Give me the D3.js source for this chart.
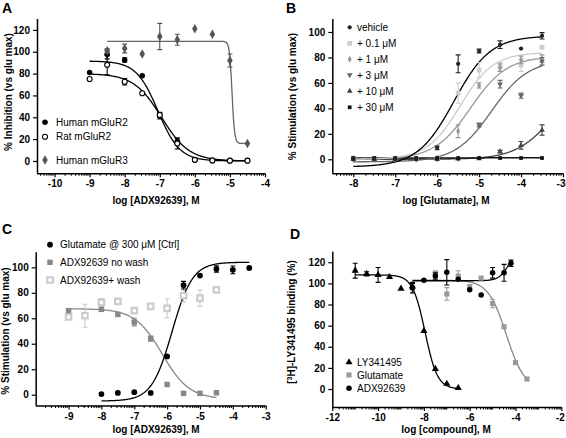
<!DOCTYPE html>
<html><head><meta charset="utf-8">
<script src="https://cdn.jsdelivr.net/npm/d3@7"></script>
<style>body{margin:0;background:#fff}svg{display:block}text{font-family:"Liberation Sans",Arial,sans-serif}</style>
</head><body>
<svg id="c" width="566" height="438"></svg>
<script>
// ===== Panel A data =====
const aX = [-9,-8.5,-8,-7.5,-7,-6.5,-6,-5.5,-5,-4.5];
const aHumanR2 = [81,97.5,92.5,78,41.5,18,0.8,0.3,0.3,0.3];
const aHumanR2Err = [0,4,2,0,3,3,0,0,0,0];
const aRatR2 = [75,88,72.5,62,42,16,1,0.5,0.3,0.3];
const aRatR2Err = [0,9,3,0,2,5,0,0,0,0];
const aX3 = [-8.5,-8,-7.5,-7,-6.5,-6,-5.5,-5,-4.5];
const aHumanR3 = [101,103,98,114,111,121,116,92,16];
const aHumanR3Err = [2,4,0,12,5,0,0,6,0];
// fit params: [bottom, top, logEC50, hill]
const aFitHumanR2 = [0,91.5,-7.05,-1.4];
const aFitRatR2 = [0,80,-6.95,-1.1];
const aFitHumanR3 = [16,109.5,-4.94,-12];
const aLabels = ["Human mGluR2","Rat mGluR2","Human mGluR3"];

// ===== Panel B data =====
const bX = [-8,-7.5,-7,-6.5,-6,-5.5,-5,-4.5,-4,-3.5];
const bVehicle = [0.5,0.5,0.5,0.5,9,75,85,90,87,97];
const bVehicleErr = [0,0,0,0,1.5,7,1.5,3,0,2.5];
const bP01 = [1,0.8,0.5,0.5,0.5,52,70,73,74,88];
const bP01Err = [0,0,0,0,0,8,6,3,5,0];
const bP1 = [0,0,0,0,1,22,58,72,78,79];
const bP1Err = [0,0,0,0,0,5,2,3,3,3];
const bP3 = [0,0,0,0,0,0.5,27,59,50,77];
const bP3Err = [0,0,0,0,0,0,1.5,3,2,3];
const bP10 = [0,0,0,0,0,0.3,0.5,6,11,23];
const bP10Err = [0,0,0,0,0,0,0,1,3,4];
const bP30 = [1,1,1,1,1,1,1,1,1,1];
const bFitVehicle = [-6,97,-5.6,1];
const bFitP01 = [0,84,-5.45,1.1];
const bFitP1 = [0,81,-5.2,1];
const bFitP3 = [-2,78,-4.7,1];
const bFitP10 = [0,60,-3.3,1];
const bFitP30 = [1,1.2,-5,1];
const bLabels = ["vehicle","+ 0.1 \u03bcM","+ 1 \u03bcM","+ 3 \u03bcM","+ 10 \u03bcM","+ 30 \u03bcM"];

// ===== Panel C data =====
const cXGlu = [-8,-7.5,-7,-6.5,-6,-5.5,-5,-4.5,-4,-3.5];
const cGlu = [0.5,1.4,2,1.4,30,86,93.5,98.7,98,99.5];
const cGluErr = [0,0,0,0,0,3,0,2.5,3,0];
const cXNoWash = [-9,-8,-7.5,-7,-6.5,-6,-5.5,-5,-4.5];
const cNoWash = [66,67,63,57,44,8,1,1,1.5];
const cNoWashErr = [0,0,0,3,2,0,0,0,0];
const cXWash = [-9,-8.5,-8,-7.5,-7,-6.5,-6,-5.5,-5,-4.5];
const cWash = [61,62,72.5,73.3,66,69.4,67.8,77.7,75.8,82.3];
const cWashErr = [0,9,3,1.5,1.5,1.5,7.5,5,6.5,2];
const cFitGlu = [-5,104,-5.85,1.4];
const cFitNoWash = [-3.5,67.5,-6.15,-1.05];
const cLabels = ["Glutamate @ 300 \u03bcM [Ctrl]","ADX92639 no wash","ADX92639+ wash"];

// ===== Panel D data =====
const dXLY = [-11,-10.5,-10,-9.5,-9,-8.5,-8,-7.5,-7,-6.5];
const dLY = [112,109,108,106,95,97,55,19,5,1];
const dLYErr = [7,2,7,0,0,3,0,0,0,0];
const dXGlu = [-7.5,-7,-6.5,-6,-5.5,-5,-4.5,-4,-3.5];
const dGlu = [110,90,107,97,105,81,59,25,9.5];
const dGluErr = [0,6,5,0,0,4,0,0,0];
const dXADX = [-8.5,-8,-7.5,-7,-6.5,-6,-5.5,-5,-4.5,-4.2];
const dADX = [96,103,107,110.5,104,94,89,110,110,119];
const dADXErr = [5,0,3,12,0,0,0,5,8,3];
const dFitLY = [0,108,-7.95,-1.6];
const dFitGlu = [0,103,-4.4,-1.1];
const dFitADX = [102.5,132.5,-4.3,2];
const dLabels = ["LY341495","Glutamate","ADX92639"];

// ===== drawing =====
const svg = d3.select("#c");
function fit(p, x){ const [b,t,c,h]=p; return b+(t-b)/(1+Math.pow(10,(c-x)*h)); }

function panel(cfg){
  const g = svg.append("g");
  const x = d3.scaleLinear().domain(cfg.xDom).range([cfg.left,cfg.right]);
  const y = d3.scaleLinear().domain(cfg.yDom).range([cfg.bottom,cfg.top]);
  const ya = g.append("g").attr("transform",`translate(${cfg.left},0)`)
    .call(d3.axisLeft(y).tickValues(cfg.yTicks).tickSize(4).tickPadding(3));
  const xa = g.append("g").attr("transform",`translate(0,${cfg.bottom})`)
    .call(d3.axisBottom(x).tickValues(cfg.xTicks).tickSize(4).tickPadding(3).tickFormat(d=>d));
  const minors=[];
  for(let n=Math.floor(cfg.xDom[0]); n<Math.ceil(cfg.xDom[1]); n++){
    for(let k=2;k<=10;k++){ const v=n+Math.log10(k); if(v>=cfg.xDom[0]-1e-9 && v<=cfg.xDom[1]+1e-9 && !cfg.xTicks.includes(v)) minors.push(v);} }
  g.append("g").selectAll("line").data(minors).join("line")
    .attr("x1",d=>x(d)).attr("x2",d=>x(d)).attr("y1",cfg.bottom).attr("y2",cfg.bottom+2.5)
    .attr("stroke","#000").attr("stroke-width",1);
  [ya,xa].forEach(a=>{
    a.select(".domain").attr("stroke-width",1.5).attr("d", a===ya ? `M0.5,${cfg.top}V${cfg.bottom}` : `M${cfg.left},0.5H${cfg.right}`);
    a.selectAll(".tick line").attr("stroke-width",1.2);
    a.selectAll("text").attr("font-size",10).attr("font-weight","bold").attr("fill","#000")
      .attr("font-family","'Liberation Sans',Arial,sans-serif");
  });
  xa.selectAll(".tick text").text(d=>d<0?"-"+Math.abs(d):d);
  if(cfg.lastShift) xa.selectAll(".tick text").filter(d=>d===cfg.xTicks[cfg.xTicks.length-1]).attr("dx",cfg.lastShift);
  g.append("text").attr("x",cfg.xTitle[0]).attr("y",cfg.xTitle[1]).attr("text-anchor","middle")
    .attr("font-size",10).attr("font-weight","bold").text(cfg.xLabel);
  g.append("text").attr("transform",`translate(${cfg.yTitle[0]},${cfg.yTitle[1]}) rotate(-90)`).attr("text-anchor","middle")
    .attr("font-size",10).attr("font-weight","bold").html(cfg.yLabel);
  g.append("text").attr("x",cfg.letter[0]).attr("y",cfg.letter[1]).attr("font-size",14).attr("font-weight","bold").text(cfg.letter[2]);
  cfg.curves.forEach(c=>{
    const pts=d3.range(0,201).map(i=>{const xv=c.from+(c.to-c.from)*i/200; return [xv,fit(c.p,xv)];});
    g.append("path").attr("d",d3.line().x(d=>x(d[0])).y(d=>y(d[1]))(pts))
      .attr("fill","none").attr("stroke",c.color).attr("stroke-width",c.w||1.3);
  });
  cfg.series.forEach(s=>{
    const gg=g.append("g");
    s.xs.forEach((xv,i)=>{
      const e = s.err ? s.err[i] : 0;
      if(e>0){
        const cx=x(xv), y1=y(s.ys[i]-e), y2=y(s.ys[i]+e), cw=2.5;
        gg.append("path").attr("d",`M${cx},${y1}V${y2}M${cx-cw},${y1}H${cx+cw}M${cx-cw},${y2}H${cx+cw}`)
          .attr("stroke",s.errColor||s.color).attr("stroke-width",1.1).attr("fill","none");
      }
    });
    s.xs.forEach((xv,i)=>{
      gg.append("path").attr("transform",`translate(${x(xv)},${y(s.ys[i])})${s.rot?" rotate("+s.rot+")":""}`)
        .attr("d",d3.symbol().type(s.sym).size(s.size)())
        .attr("fill",s.fill).attr("stroke",s.stroke||"none").attr("stroke-width",s.sw||1);
    });
  });
  cfg.legend.forEach((l,i)=>{
    const s=cfg.series[l.s];
    g.append("path").attr("transform",`translate(${l.mx},${l.y})${s.rot?" rotate("+s.rot+")":""}`)
      .attr("d",d3.symbol().type(s.sym).size(s.size)()).attr("fill",s.fill).attr("stroke",s.stroke||"none").attr("stroke-width",s.sw||1);
    g.append("text").attr("x",l.tx).attr("y",l.y+3.6).attr("font-size",10).text(l.text);
  });
}

panel({
  left:37,right:265,top:19,bottom:173.3,xDom:[-10.5,-4],yDom:[-11.3,130],
  xTicks:[-10,-9,-8,-7,-6,-5,-4],yTicks:[0,20,40,60,80,100,120],
  xLabel:"log [ADX92639], M",yLabel:"% Inhibition (vs glu max)",xTitle:[156,203.5],yTitle:[12,92],letter:[2,12.5,"A"],
  curves:[{p:aFitHumanR3,from:-8.5,to:-4.5,color:"#666"},{p:aFitHumanR2,from:-9,to:-4.5,color:"#000"},{p:aFitRatR2,from:-9,to:-4.5,color:"#000"}],
  series:[
    {xs:aX,ys:aHumanR2,err:aHumanR2Err,sym:d3.symbolCircle,size:24,fill:"#000",color:"#000"},
    {xs:aX,ys:aRatR2,err:aRatR2Err,sym:d3.symbolCircle,size:20,fill:"#fff",stroke:"#000",sw:1.1,color:"#000"},
    {xs:aX3,ys:aHumanR3,err:aHumanR3Err,sym:d3.symbolDiamond,size:26,fill:"#555",color:"#555"}
  ],
  legend:[{s:0,mx:45,tx:56,y:122.3,text:aLabels[0]},{s:1,mx:45,tx:56,y:136.7,text:aLabels[1]},{s:2,mx:45,tx:56,y:160,text:aLabels[2]}]
});

panel({
  left:332.3,right:563,top:19,bottom:173.3,xDom:[-8.5,-3],yDom:[-11,110.2],lastShift:-2.5,
  xTicks:[-8,-7,-6,-5,-4,-3],yTicks:[0,20,40,60,80,100],
  xLabel:"log [Glutamate], M",yLabel:"% Stimulation (vs glu max)",xTitle:[446,203.5],yTitle:[296,96.5],letter:[286,13,"B"],
  curves:[
    {p:bFitP10,from:-8,to:-3.5,color:"#444"},{p:bFitP30,from:-8,to:-3.5,color:"#111",w:1.5},
    {p:bFitP3,from:-8,to:-3.5,color:"#666"},{p:bFitP1,from:-8,to:-3.5,color:"#999"},
    {p:bFitP01,from:-8,to:-3.5,color:"#ccc"},{p:bFitVehicle,from:-8,to:-3.5,color:"#000"}],
  series:[
    {xs:bX,ys:bP01,err:bP01Err,sym:d3.symbolSquare,size:22,fill:"#ccc",color:"#ccc"},
    {xs:bX,ys:bP1,err:bP1Err,sym:d3.symbolDiamond,size:14,fill:"#999",color:"#999"},
    {xs:bX,ys:bP3,err:bP3Err,sym:d3.symbolTriangle,size:14,fill:"#666",color:"#666",rot:180},
    {xs:bX,ys:bP10,err:bP10Err,sym:d3.symbolTriangle,size:14,fill:"#444",color:"#444"},
    {xs:bX,ys:bP30,sym:d3.symbolSquare,size:14,fill:"#111",color:"#111"},
    {xs:bX,ys:bVehicle,err:bVehicleErr,sym:d3.symbolCircle,size:14,fill:"#222",color:"#222"}
  ],
  legend:[{s:5,mx:349.7,tx:357,y:27.3,text:bLabels[0]},{s:0,mx:349.7,tx:357,y:43.3,text:bLabels[1]},{s:1,mx:349.7,tx:357,y:59.3,text:bLabels[2]},
          {s:2,mx:349.7,tx:357,y:75,text:bLabels[3]},{s:3,mx:349.7,tx:357,y:91,text:bLabels[4]},{s:4,mx:349.7,tx:357,y:107.3,text:bLabels[5]}]
});

panel({
  left:35.7,right:265.7,top:252.3,bottom:405.5,xDom:[-10,-3],yDom:[-8.5,111.8],
  xTicks:[-9,-8,-7,-6,-5,-4,-3],yTicks:[0,20,40,60,80,100],
  xLabel:"log [ADX92639], M",yLabel:"% Stimulation (vs glu max)",xTitle:[156,433],yTitle:[9,331],letter:[2,234,"C"],
  curves:[{p:cFitNoWash,from:-9,to:-4.5,color:"#888"},{p:cFitGlu,from:-8,to:-3.5,color:"#000"}],
  series:[
    {xs:cXWash,ys:cWash,err:cWashErr,sym:d3.symbolSquare,size:30,fill:"#fff",stroke:"#ccc",sw:2.2,color:"#ccc"},
    {xs:cXNoWash,ys:cNoWash,err:cNoWashErr,sym:d3.symbolSquare,size:30,fill:"#888",color:"#888"},
    {xs:cXGlu,ys:cGlu,err:cGluErr,sym:d3.symbolCircle,size:26,fill:"#000",color:"#000"}
  ],
  legend:[{s:2,mx:50,tx:60,y:244.7,text:cLabels[0]},{s:1,mx:50,tx:60,y:262.3,text:cLabels[1]},{s:0,mx:50,tx:60,y:280,text:cLabels[2]}]
});

panel({
  left:332.3,right:561.3,top:251.7,bottom:407,xDom:[-12,-2],yDom:[-17,130],lastShift:-1.5,
  xTicks:[-12,-10,-8,-6,-4,-2],yTicks:[0,20,40,60,80,100,120],
  xLabel:"log [compound], M",yLabel:"[<tspan baseline-shift='super' font-size='7'>3</tspan>H]-LY341495 binding (%)",xTitle:[446,433],yTitle:[295,322],letter:[290,239,"D"],
  curves:[{p:dFitGlu,from:-8.5,to:-3.5,color:"#888"},{p:dFitADX,from:-8.5,to:-4.2,color:"#000"},{p:dFitLY,from:-11,to:-6.5,color:"#000"}],
  series:[
    {xs:dXGlu,ys:dGlu,err:dGluErr,sym:d3.symbolSquare,size:26,fill:"#999",color:"#999"},
    {xs:dXLY,ys:dLY,err:dLYErr,sym:d3.symbolTriangle,size:22,fill:"#000",color:"#000"},
    {xs:dXADX,ys:dADX,err:dADXErr,sym:d3.symbolCircle,size:24,fill:"#000",color:"#000"}
  ],
  legend:[{s:1,mx:349,tx:357,y:362.3,text:dLabels[0]},{s:0,mx:349,tx:357,y:375,text:dLabels[1]},{s:2,mx:349,tx:357,y:388.3,text:dLabels[2]}]
});
</script>
</body></html>
